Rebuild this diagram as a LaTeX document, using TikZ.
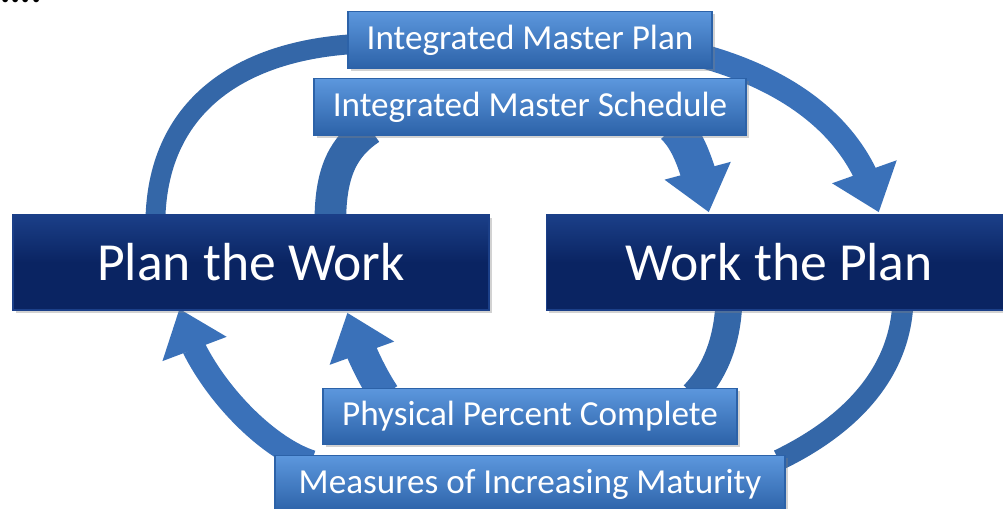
\documentclass[tikz,border=0pt]{standalone}
\usepackage{fontspec}
\setmainfont{Carlito}
\usetikzlibrary{arrows.meta,bending,backgrounds,shadows,calc}

\definecolor{navy}{HTML}{0A2462}
\definecolor{navytop}{HTML}{1B3F88}
\definecolor{boxmid}{HTML}{3F7CC9}
\definecolor{boxtop}{HTML}{5C97DD}
\definecolor{boxbot}{HTML}{2C62A8}
\definecolor{bandblue}{HTML}{3467A8}
\definecolor{arrowblue}{HTML}{3A71B9}

\tikzset{
	labelbox/.style={draw=boxbot, line width=0.8pt, top color=boxtop, middle color=boxmid, bottom color=boxbot,
		text=white, font=\fontsize{20}{22}\selectfont, inner sep=0pt, minimum height=1.13cm,
		drop shadow={opacity=0.35, shadow xshift=1.5pt, shadow yshift=-1.5pt}},
	workbox/.style={draw=navytop, line width=0.8pt, top color=navytop, bottom color=navy, middle color=navy,
		text=white, font=\fontsize{30.5}{34}\selectfont, inner sep=0pt, minimum height=1.9cm,
		drop shadow={opacity=0.35, shadow xshift=1.5pt, shadow yshift=-1.5pt}},
	band/.style={draw=bandblue, line width=#1},
	flow/.style={draw=arrowblue, line width=#1, -{Triangle[length=24.5pt, width=37.4pt, flex]}}
}

\begin{document}
\begin{tikzpicture}[x=0.02cm, y=-0.02cm]
	\useasboundingbox (0,0) rectangle (1003,508);

	\node[anchor=base west, font=\fontsize{22}{22}\selectfont\bfseries] (dots) at (-6,2) {....};

	% the two goals
	\node[workbox, minimum width=9.52cm] (PW) at (251,262.5) {Plan the Work};
	\node[workbox, minimum width=9.3cm] (WP) at (779,262.5) {Work the Plan};

	% the four products
	\node[labelbox, minimum width=7.28cm] (IMP) at (530,40) {Integrated Master Plan};
	\node[labelbox, minimum width=8.64cm] (IMS) at (530,107) {Integrated Master Schedule};
	\node[labelbox, minimum width=8.28cm] (PPC) at (530,416.5) {Physical Percent Complete};
	\node[labelbox, minimum width=10.2cm] (MIM) at (530,484) {Measures of Increasing Maturity};

	\begin{scope}[on background layer]
		\fill[white] (0,0) rectangle (1003,508);

		% planning side, top
		\draw[band=11.3pt] ($(IMP.west)+(8,4)$) .. controls +(-106,6) and +(2,-122) .. ($(PW.north west)+(143,7)$);
		\draw[band=18pt] ($(IMS.south)+(-160,-7)$) .. controls +(-25,17) and +(0,-52) .. ($(PW.north west)+(318,7)$);
		\draw[flow=20pt] ($(IMS.south)+(144,-9)$) .. controls +(14,14) and +(-12,-50) .. ($(WP.north west)+(163,-2)$);
		\draw[flow=13.6pt] ($(IMP.east)+(-7,17)$) .. controls +(80,23) and +(-20,-86) .. ($(WP.north west)+(333,-2)$);

		% feedback side, bottom
		\draw[band=15.3pt] ($(PPC.north east)+(-44,7)$) .. controls +(19,-20) and +(-2,42) .. ($(WP.south west)+(183,-7)$);
		\draw[band=12pt] ($(MIM.north east)+(-7,5)$) .. controls +(62,-30) and +(-4,77) .. ($(WP.south west)+(357,-7)$);
		\draw[flow=17.6pt] ($(PPC.north west)+(62,7)$) .. controls +(-8,-12) and +(12,41) .. ($(PW.south west)+(335,2)$);
		\draw[flow=13.6pt] ($(MIM.north west)+(37,7)$) .. controls +(-52,-17) and +(14,63) .. ($(PW.south west)+(167,-2)$);
	\end{scope}
\end{tikzpicture}
\end{document}
